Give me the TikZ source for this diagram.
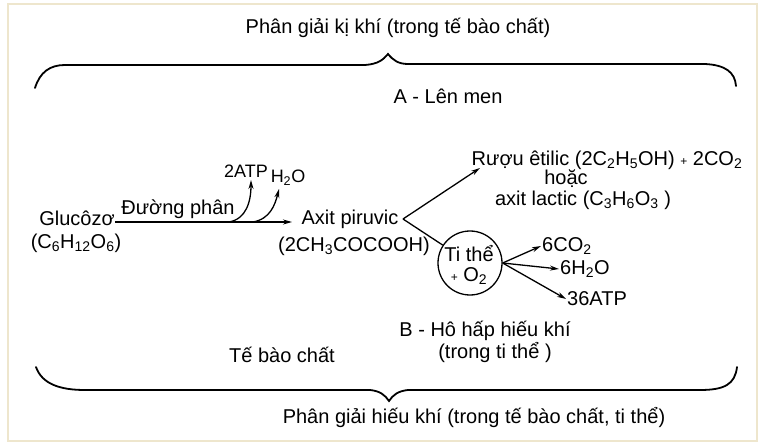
\documentclass[tikz,border=0pt]{standalone}
\usepackage{fontspec}
\setmainfont{Liberation Sans}
\usetikzlibrary{arrows.meta}
\definecolor{framec}{RGB}{238,230,205}
\newcommand{\smallplus}{{\fontsize{12}{12}\selectfont +}}
\tikzset{
  txt/.style={inner sep=1pt, font=\fontsize{20}{22}\selectfont},
  stxt/.style={inner sep=1pt, font=\fontsize{18}{20}\selectfont},
  brace/.style={line width=1.8pt, line cap=round},
  arr/.style={line width=1.3pt, -{Stealth[length=9pt,width=5pt]}},
  ln/.style={line width=1.3pt},
}
\begin{document}
\begin{tikzpicture}[x=1pt,y=-1pt]
\useasboundingbox (0,0) rectangle (765,446);
\fill[white] (0,0) rectangle (765,446);
\draw[framec, line width=2pt] (8,4) rectangle (757,441);

% titles
\node[txt] (top) at (398,28) {Phân giải kị khí (trong tế bào chất)};
\node[txt] (lenmen) at (448,96) {A - Lên men};
\node[txt] (bot) at (474,418) {Phân giải hiếu khí (trong tế bào chất, ti thể)};
\node[txt] (hohap) at (485,331) {B - Hô hấp hiếu khí};
\node[txt] (trongti) at (495,353) {(trong ti thể )};
\node[txt] (tbc) at (282,355) {Tế bào chất};

% braces
\draw[brace] (35,88) .. controls (40,72) and (50,65) .. (65,65) -- (365,65)
  .. controls (378,64) and (383,60) .. (388,54)
  .. controls (393,60) and (398,64) .. (408,64) -- (705,64)
  .. controls (725,65) and (735,72) .. (736,86);
\draw[brace] (36,367) .. controls (42,384) and (60,390) .. (85,390) -- (370,390)
  .. controls (380,391) and (385,395) .. (389,401)
  .. controls (393,395) and (398,391) .. (408,390) -- (700,390)
  .. controls (725,390) and (735,384) .. (737,367);

% left part
\node[txt] (gluc) at (77,218) {Glucôzơ};
\node[txt] (glucf) at (76,243) {(C\textsubscript{6}H\textsubscript{12}O\textsubscript{6})};
\node[txt] (dp) at (178,209) {Đường phân};
\node[txt] (axit) at (350,219) {Axit piruvic};
\node[txt] (axitf) at (354,246) {(2CH\textsubscript{3}COCOOH)};
\node[stxt] (atp2) at (246,171) {2ATP};
\node[stxt] (h2o) at (288,178) {H\textsubscript{2}O};

\coordinate (gs) at (115,222);
\coordinate (ae) at (292,222);
\coordinate (c1) at (229,222);
\coordinate (c2) at (253,222);
\draw[arr] (gs) -- (ae);
\draw[arr] (c1) .. controls (246,219) and (251,202) .. (251,180);
\draw[arr] (c2) .. controls (270,219) and (275,205) .. (279,189);

% branch
\coordinate (br) at (403,219);
\node[txt] (ruou) at (607,160) {Rượu êtilic (2C\textsubscript{2}H\textsubscript{5}OH) \smallplus{} 2CO\textsubscript{2}};
\node[txt] (hoac) at (566,179) {hoặc};
\node[txt] (lactic) at (583,200) {axit lactic (C\textsubscript{3}H\textsubscript{6}O\textsubscript{3} )};
\coordinate (rtip) at (480,168);
\draw[arr] (br) -- (rtip);

\node[circle, draw, line width=1.3pt, minimum size=64pt, inner sep=0] (circ) at (470,263) {};
\node[txt] (tithe) at (469,254) {Ti thể};
\node[txt] (o2) at (469,276) {\smallplus{} O\textsubscript{2}};
\draw[ln] (br) -- (circ);

\node[txt, anchor=west] (co2) at (541,246) {6CO\textsubscript{2}};
\node[txt, anchor=west] (h2o6) at (559,269) {6H\textsubscript{2}O};
\node[txt, anchor=west] (atp36) at (566,299) {36ATP};
\draw[arr] (circ.east) -- (co2.west);
\draw[arr] (circ.east) -- (h2o6.west);
\draw[arr] (circ.east) -- (atp36.west);
\end{tikzpicture}
\end{document}
